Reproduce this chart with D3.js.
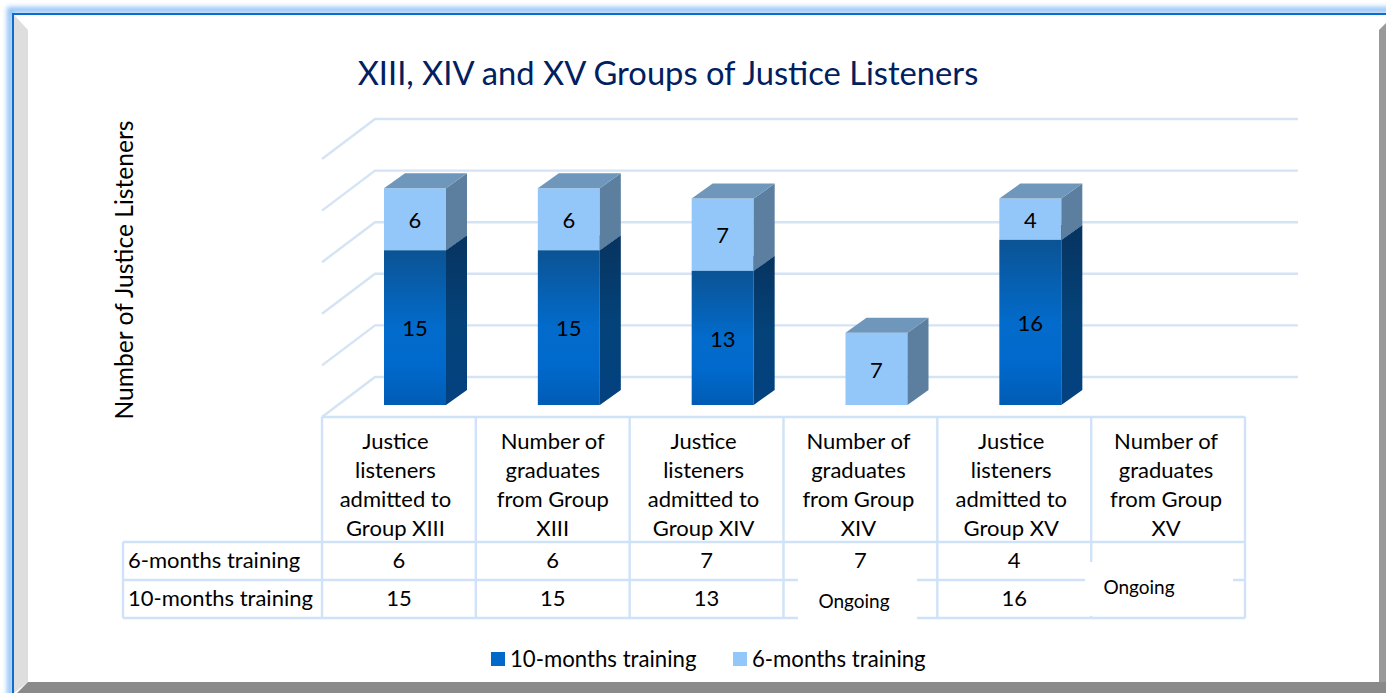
<!DOCTYPE html>
<html><head><meta charset="utf-8">
<style>html,body{margin:0;padding:0;background:#fff;overflow:hidden}svg{display:block}text{font-family:Lato,"Open Sans",sans-serif;fill:#000}</style>
<script src="https://cdn.jsdelivr.net/npm/d3@7"></script></head><body>
<svg id="c" width="1386" height="693"></svg>
<script>
const categories=[
 ["Justice","listeners","admitted to","Group XIII"],
 ["Number of","graduates","from Group","XIII"],
 ["Justice","listeners","admitted to","Group XIV"],
 ["Number of","graduates","from Group","XIV"],
 ["Justice","listeners","admitted to","Group XV"],
 ["Number of","graduates","from Group","XV"]];
const sixMonths=[6,6,7,7,4,null];
const tenMonths=[15,15,13,null,16,null];
const yTicks=[0,5,10,15,20,25];
const seriesNames=["10-months training","6-months training"];
const titleText="XIII, XIV and XV Groups of Justice Listeners";
const yTitle="Number of Justice Listeners";
const ongoingText="Ongoing";

const svg=d3.select("#c");
const W=1386,H=693;
const defs=svg.append("defs");
const blur=defs.append("filter").attr("id","glow").attr("x","-5%").attr("y","-5%").attr("width","110%").attr("height","110%");
blur.append("feGaussianBlur").attr("stdDeviation",2.6);
function grad(id,stops){const g=defs.append("linearGradient").attr("id",id).attr("x1",0).attr("y1",0).attr("x2",0).attr("y2",1);
 stops.forEach(s=>g.append("stop").attr("offset",s[0]).attr("stop-color",s[1]));}
grad("darkFront",[[0,"#0b5394"],[.5,"#026bcb"],[.75,"#0069cc"],[1,"#005cb4"]]);
grad("darkSide",[[0,"#07335f"],[.5,"#044279"],[1,"#034180"]]);

// frame
svg.append("rect").attr("x",10).attr("y",10).attr("width",W+40).attr("height",H+40).attr("fill","none").attr("stroke","#8fc1f6").attr("stroke-width",6).attr("filter","url(#glow)");
svg.append("rect").attr("x",13).attr("y",14).attr("width",W).attr("height",H).attr("fill","#fff");
svg.append("path").attr("d","M14,15L28,30V682L14,693Z").attr("fill","#dedede");
svg.append("path").attr("d","M1386,23L1379,30V682H1386Z").attr("fill","#999");
svg.append("path").attr("d","M28,682H1386V693H17Z").attr("fill","#8a8a8a");
svg.append("rect").attr("x",12).attr("y",13).attr("width",W).attr("height",2).attr("fill","#0a6cd0");
svg.append("rect").attr("x",12).attr("y",13).attr("width",2).attr("height",H).attr("fill","#0a6cd0");

// scales
const x=d3.scaleBand().domain(d3.range(categories.length)).range([322,1245]);
const y=d3.scaleLinear().domain([0,25]).range([405,147]);
const wall={dx:53,dy:-28,front:40};
const bar={off:62,w:62,dx:21,dy:-15};
const gridCol="#d5e4f4",tableCol="#cfe2f7";

// gridlines
const g=svg.append("g").attr("fill","none").attr("stroke",gridCol).attr("stroke-width",2.4);
yTicks.forEach(t=>{
 const yw=y(t)+wall.dy;
 g.append("path").attr("d",`M${x.range()[0]},${yw+wall.front}L${x.range()[0]+wall.dx},${yw}H${x.range()[1]+wall.dx}`);
});

// bars
const stack=d3.stack().keys([0,1]).value((d,k)=>(k===0?tenMonths:sixMonths)[d]||0)(d3.range(categories.length));
const styles=[{front:"url(#darkFront)",side:"url(#darkSide)",top:"#0b5394"},{front:"#93c6f9",side:"#5c7f9f",top:"#6f97bc"}];
const bars=svg.append("g");
stack.forEach((s,k)=>{
 s.forEach((d,i)=>{
  if(d[1]===d[0])return;
  const X=x(i)+bar.off,Y0=y(d[0]),Y1=y(d[1]),st=styles[k];
  bars.append("rect").attr("x",X).attr("y",Y1).attr("width",bar.w).attr("height",Y0-Y1).attr("fill",st.front);
  bars.append("path").attr("d",`M${X+bar.w},${Y0}V${Y1}l${bar.dx},${bar.dy}V${Y0+bar.dy}Z`).attr("fill",st.side);
  bars.append("path").attr("d",`M${X},${Y1}h${bar.w}l${bar.dx},${bar.dy}h${-bar.w}Z`).attr("fill",st.top);
  bars.append("text").attr("x",X+bar.w/2).attr("y",(Y0+Y1)/2+1).attr("dy",".35em").attr("text-anchor","middle").attr("font-size",22).text(d[1]-d[0]);
 });
});

// data table
const rowY=d3.scaleOrdinal().domain(["top","head","six","ten"]).range([417,542,580,618]);
const tb=svg.append("g").attr("stroke",tableCol).attr("stroke-width",2.4).attr("fill","none");
const left=123,xs=d3.range(categories.length+1).map(i=>i<categories.length?x(i):x.range()[1]);
tb.append("path").attr("d",`M${xs[0]},${rowY("top")}H${xs[6]}`);
[ "head","six","ten"].forEach(r=>tb.append("path").attr("d",`M${left},${rowY(r)}H${xs[6]}`));
xs.forEach(v=>tb.append("path").attr("d",`M${v},${rowY("top")}V${rowY("ten")}`));
tb.append("path").attr("d",`M${left},${rowY("head")}V${rowY("ten")}`);

const headShift=[-3.5,0,-3,-2,-3,-2];
const txt=svg.append("g").attr("font-size",22);
categories.forEach((lines,i)=>lines.forEach((l,j)=>{
 txt.append("text").attr("x",x(i)+x.bandwidth()/2+headShift[i]).attr("y",441+j*29).attr("dy",".35em").attr("text-anchor","middle").text(l);
}));
[[sixMonths,"six",560],[tenMonths,"ten",598]].forEach(([vals,r,cy],k)=>{
 txt.append("text").attr("x",128).attr("y",cy).attr("dy",".35em").text(seriesNames[1-k]);
 vals.forEach((v,i)=>{ if(v!==null) txt.append("text").attr("x",x(i)+x.bandwidth()/2).attr("y",cy).attr("dy",".35em").attr("text-anchor","middle").text(v); });
});

// Ongoing patches
svg.append("rect").attr("x",798).attr("y",574).attr("width",119).attr("height",52).attr("fill","#fff");
svg.append("rect").attr("x",1085).attr("y",562).attr("width",148).attr("height",54).attr("fill","#fff");
svg.append("text").attr("x",854).attr("y",601).attr("dy",".35em").attr("text-anchor","middle").attr("font-size",19).text(ongoingText);
svg.append("text").attr("x",1139).attr("y",587).attr("dy",".35em").attr("text-anchor","middle").attr("font-size",19).text(ongoingText);

// title etc
svg.append("text").attr("x",668).attr("y",85).attr("text-anchor","middle").attr("font-size",32.7).style("fill","#002060").text(titleText);
svg.append("text").attr("transform","translate(133,270) rotate(-90)").attr("text-anchor","middle").attr("font-size",24.6).text(yTitle);

// legend
[[491,510,"#0068c8",0],[733,752,"#93c6f9",1]].forEach(([sx,tx,c,k])=>{
 svg.append("rect").attr("x",sx).attr("y",652).attr("width",14).attr("height",14).attr("fill",c);
 svg.append("text").attr("x",tx).attr("y",659).attr("dy",".35em").attr("font-size",22.2).text(seriesNames[k]);
});
</script></body></html>
